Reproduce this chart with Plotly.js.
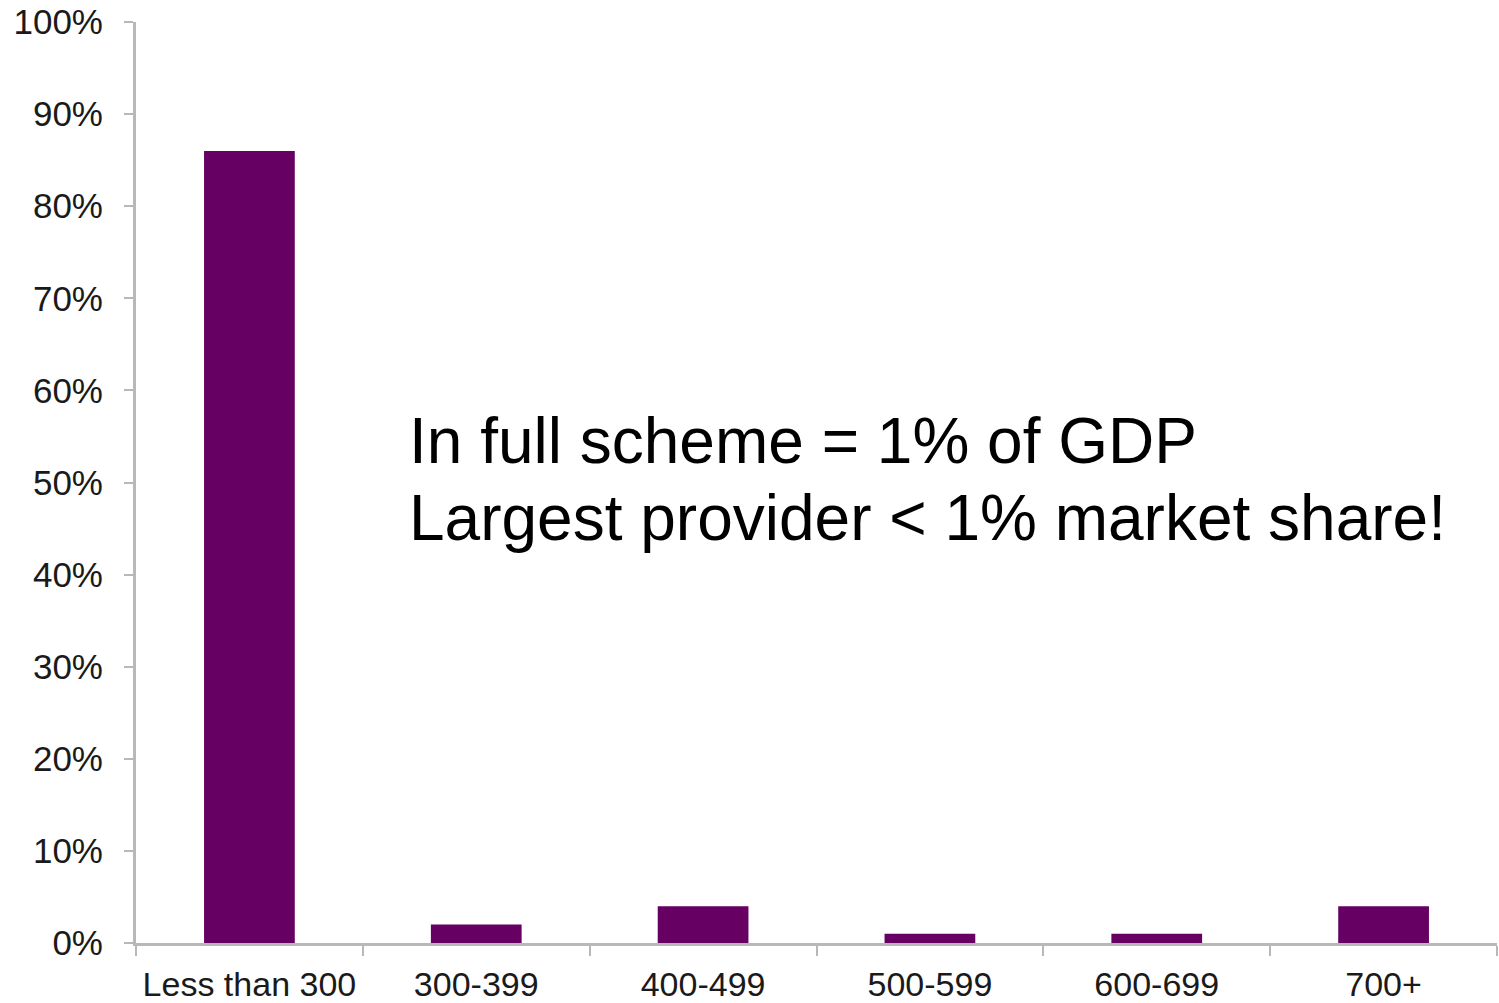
<!DOCTYPE html>
<html>
<head>
<meta charset="utf-8">
<script src="https://cdn.plot.ly/plotly-3.0.1.min.js"></script>
<style>html,body{margin:0;padding:0;background:#fff;}#chart{width:1499px;height:1003px;}</style>
</head>
<body>
<div id="chart"></div>
<script>
const categories = ["Less than 300", "300-399", "400-499", "500-599", "600-699", "700+"];
const shares = [86, 2, 4, 1, 1, 4];
const yTickValues = [0, 10, 20, 30, 40, 50, 60, 70, 80, 90, 100];
const noteLines = ["In full scheme = 1% of GDP", "Largest provider < 1% market share!"];

const font = "Liberation Sans, Arial, sans-serif";
const axisGray = "#b8b8b8";

const trace = {
  type: "bar",
  x: categories,
  y: shares,
  marker: {color: "#660062", line: {width: 0}},
  hoverinfo: "none"
};

const layout = {
  width: 1499,
  height: 1003,
  margin: {l: 136, r: 2, t: 22, b: 60, pad: 0},
  paper_bgcolor: "#ffffff",
  plot_bgcolor: "#ffffff",
  showlegend: false,
  bargap: 0.6,
  font: {family: font, color: "#1a1a1a"},
  xaxis: {
    type: "category",
    showgrid: false,
    zeroline: false,
    showline: true,
    linecolor: axisGray,
    linewidth: 3,
    ticks: "outside",
    tickson: "boundaries",
    ticklen: 10,
    tickwidth: 2,
    tickcolor: axisGray,
    tickangle: 0,
    automargin: false,
    tickfont: {family: font, size: 34, color: "#1a1a1a"},
    ticklabelstandoff: 9
  },
  yaxis: {
    range: [0, 100],
    tickvals: yTickValues,
    ticktext: yTickValues.map(v => v + "%"),
    showgrid: false,
    zeroline: false,
    showline: true,
    linecolor: axisGray,
    linewidth: 3,
    ticks: "outside",
    ticklen: 9,
    tickwidth: 2,
    tickcolor: axisGray,
    automargin: false,
    tickfont: {family: font, size: 35, color: "#1a1a1a"},
    ticklabelstandoff: 14
  },
  annotations: noteLines.map((t, i) => ({
    text: t,
    xref: "paper",
    yref: "paper",
    x: 0.199,
    y: i === 0 ? 0.545 : 0.4615,
    xanchor: "left",
    yanchor: "middle",
    showarrow: false,
    align: "left",
    font: {family: font, size: 64, color: "#000000"}
  }))
};

Plotly.newPlot("chart", [trace], layout, {displayModeBar: false, staticPlot: true});
</script>
</body>
</html>
